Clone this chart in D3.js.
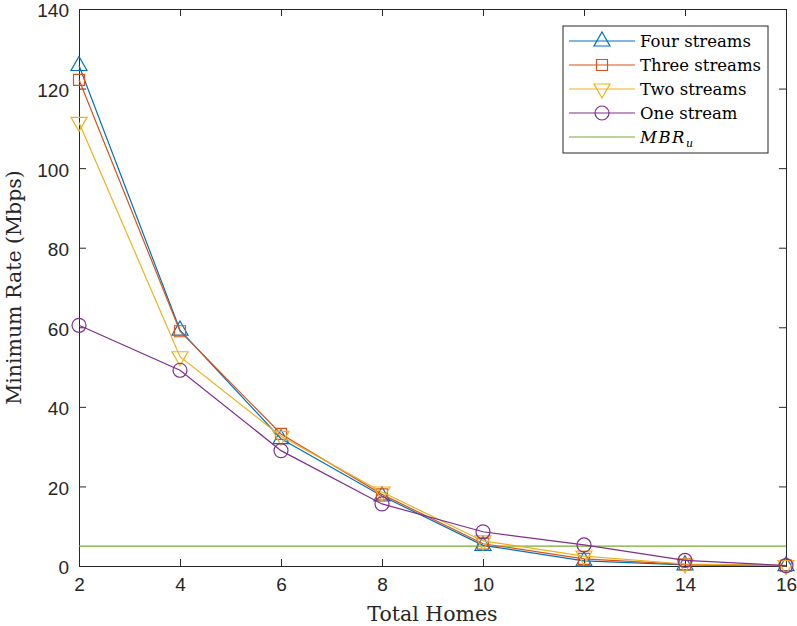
<!DOCTYPE html>
<html>
<head>
<meta charset="utf-8">
<script src="https://cdn.jsdelivr.net/npm/d3@7/dist/d3.min.js"></script>
<style>
  body { margin: 0; background: #fff; }
  .tick text { font-family: "Liberation Sans", Arial, sans-serif; font-size: 19px; fill: #262626; }
  .lbl { font-family: "DejaVu Serif", serif; font-size: 20.5px; fill: #262626; }
  .leg { font-family: "DejaVu Serif", serif; font-size: 16.5px; fill: #000; }
</style>
</head>
<body>
<svg id="chart" width="797" height="626"></svg>
<script>
    'use strict';

    // values
    const homes = [2, 4, 6, 8, 10, 12, 14, 16];
    const fourStreams = [125.8, 59.3, 32.0, 17.6, 5.2, 1.3, 0.3, 0.1];
    const threeStreams = [122.2, 59.0, 33.2, 18.0, 5.6, 1.8, 0.4, 0.1];
    const twoStreams = [111.5, 52.6, 32.6, 18.6, 6.3, 2.5, 0.5, 0.1];
    const oneStream = [60.5, 49.2, 29.0, 15.6, 8.6, 5.3, 1.4, 0.1];
    const mbrU = 5;
    const xTicks = [2, 4, 6, 8, 10, 12, 14, 16];
    const yTicks = [0, 20, 40, 60, 80, 100, 120, 140];

    const series = [
        { name: 'Four streams', values: fourStreams, color: '#0072BD', marker: 'triUp' },
        { name: 'Three streams', values: threeStreams, color: '#D95319', marker: 'square' },
        { name: 'Two streams', values: twoStreams, color: '#EDB120', marker: 'triDown' },
        { name: 'One stream', values: oneStream, color: '#7E2F8E', marker: 'circle' }
    ];

    const margin = { left: 79, right: 11, top: 9, bottom: 60 },
        width = 797 - margin.left - margin.right,
        height = 626 - margin.top - margin.bottom;

    const svg = d3.select('#chart');
    const g = svg.append('g').attr('transform', `translate(${margin.left},${margin.top})`);

    const x = d3.scaleLinear().domain([2, 16]).range([0, width]);
    const y = d3.scaleLinear().domain([0, 140]).range([height, 0]);

    function markerPath(type) {
        switch (type) {
            case 'triUp': return 'M0,-9L8,5L-8,5Z';
            case 'triDown': return 'M0,9L8,-5L-8,-5Z';
            case 'square': return 'M-5.5,-5.5H5.5V5.5H-5.5Z';
            default: return d3.arc()({ innerRadius: 0, outerRadius: 7, startAngle: 0, endAngle: 2 * Math.PI });
        }
    }

    // axes, MATLAB style with inward ticks on all four sides
    const tickLen = 7;
    const xAxis = g.append('g').attr('transform', `translate(0,${height})`)
        .call(d3.axisBottom(x).tickValues(xTicks).tickSize(-tickLen).tickPadding(12));
    const yAxis = g.append('g')
        .call(d3.axisLeft(y).tickValues(yTicks).tickSize(-tickLen).tickPadding(10));
    yAxis.selectAll('.tick text').attr('dy', '0.42em');
    const xTop = g.append('g')
        .call(d3.axisTop(x).tickValues(xTicks).tickSize(-tickLen).tickFormat(''));
    const yRight = g.append('g').attr('transform', `translate(${width},0)`)
        .call(d3.axisRight(y).tickValues(yTicks).tickSize(-tickLen).tickFormat(''));
    [xAxis, yAxis, xTop, yRight].forEach(a => {
        a.select('.domain').attr('stroke', '#262626');
        a.selectAll('.tick line').attr('stroke', '#262626');
    });

    // MBR_u line
    g.append('line')
        .attr('x1', x(2)).attr('x2', x(16))
        .attr('y1', y(mbrU)).attr('y2', y(mbrU))
        .attr('stroke', '#77AC30').attr('stroke-width', 1.2);

    const line = d3.line().x((d, i) => x(homes[i])).y(d => y(d));

    series.forEach(s => {
        g.append('path')
            .datum(s.values)
            .attr('d', line)
            .attr('fill', 'none')
            .attr('stroke', s.color)
            .attr('stroke-width', 1.2);
        g.selectAll(null)
            .data(s.values)
            .enter()
            .append('path')
            .attr('d', markerPath(s.marker))
            .attr('transform', (d, i) => `translate(${x(homes[i])},${y(d)})`)
            .attr('fill', 'none')
            .attr('stroke', s.color)
            .attr('stroke-width', 1.2);
    });

    // axis labels
    svg.append('text').attr('class', 'lbl')
        .attr('x', margin.left + width / 2).attr('y', 621)
        .attr('text-anchor', 'middle')
        .text('Total Homes');
    svg.append('text').attr('class', 'lbl')
        .attr('transform', `translate(21,${margin.top + height / 2}) rotate(-90)`)
        .attr('text-anchor', 'middle')
        .text('Minimum Rate (Mbps)');

    // legend
    const legend = svg.append('g').attr('transform', 'translate(563,26)');
    legend.append('rect')
        .attr('width', 205).attr('height', 127)
        .attr('fill', '#fff').attr('stroke', '#262626').attr('stroke-width', 1);

    const legendItems = series.concat([{ name: 'MBR', color: '#77AC30', marker: null }]);
    legendItems.forEach((s, i) => {
        const row = legend.append('g').attr('transform', `translate(0,${15 + i * 24})`);
        row.append('line')
            .attr('x1', 6).attr('x2', 72)
            .attr('stroke', s.color).attr('stroke-width', 1.2);
        if (s.marker) {
            row.append('path')
                .attr('d', markerPath(s.marker))
                .attr('transform', 'translate(39,0)')
                .attr('fill', 'none')
                .attr('stroke', s.color)
                .attr('stroke-width', 1.2);
        }
        const t = row.append('text').attr('class', 'leg').attr('x', 77).attr('y', 6);
        if (s.marker) {
            t.text(s.name);
        } else {
            t.append('tspan').attr('font-style', 'italic').attr('letter-spacing', '1.5px').text('MBR');
            t.append('tspan').attr('font-style', 'italic').attr('font-size', '11px').attr('dy', 4).text('u');
        }
    });
</script>
</body>
</html>
